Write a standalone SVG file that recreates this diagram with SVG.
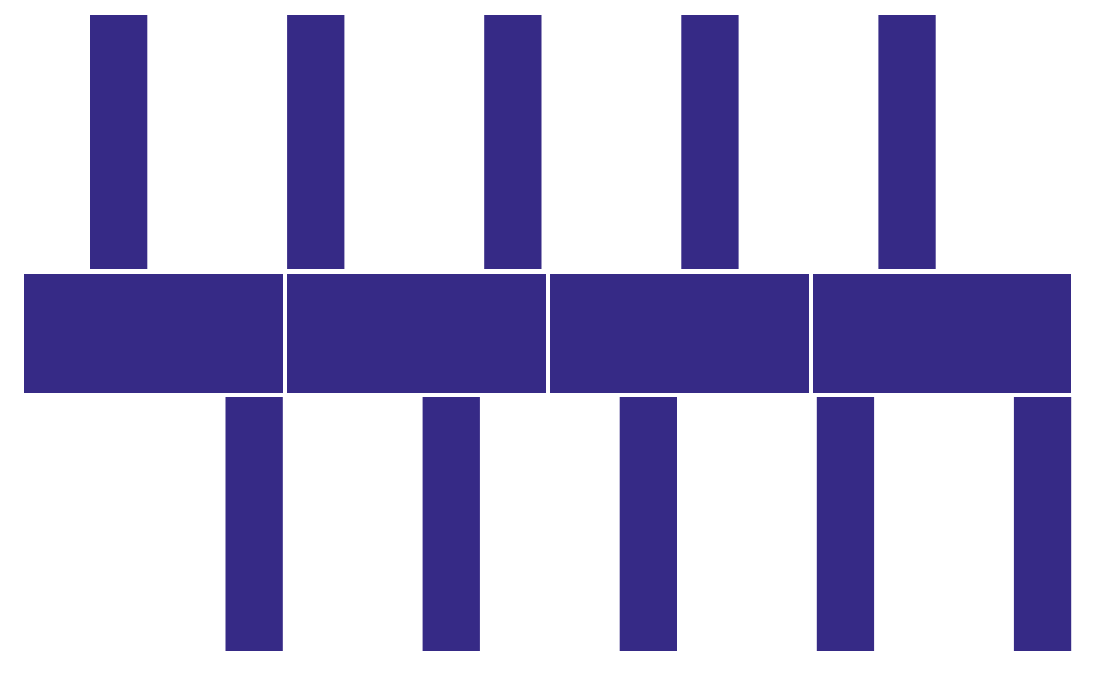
<svg xmlns="http://www.w3.org/2000/svg" width="1099" height="680" viewBox="0 0 1099 680">
<style>
.b{fill:#362a86}
</style>
<rect width="1099" height="680" fill="#ffffff"/>
<g id="top-bars">
<rect class="b" x="90" y="15" width="57.3" height="254"/>
<rect class="b" x="287.1" y="15" width="57.3" height="254"/>
<rect class="b" x="484.2" y="15" width="57.3" height="254"/>
<rect class="b" x="681.3" y="15" width="57.3" height="254"/>
<rect class="b" x="878.4" y="15" width="57.3" height="254"/>
</g>
<g id="middle-blocks">
<rect class="b" x="24" y="274" width="259" height="119"/>
<rect class="b" x="287" y="274" width="259" height="119"/>
<rect class="b" x="550" y="274" width="259" height="119"/>
<rect class="b" x="813" y="274" width="258" height="119"/>
</g>
<g id="bottom-bars">
<rect class="b" x="225.5" y="397" width="57.3" height="254"/>
<rect class="b" x="422.6" y="397" width="57.3" height="254"/>
<rect class="b" x="619.7" y="397" width="57.3" height="254"/>
<rect class="b" x="816.8" y="397" width="57.3" height="254"/>
<rect class="b" x="1013.9" y="397" width="57.3" height="254"/>
</g>
</svg>
